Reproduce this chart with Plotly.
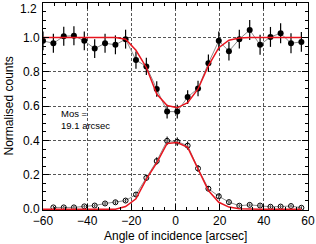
import plotly.graph_objects as go

# Angle of incidence [arcsec]
x_upper = [-60.0, -55.3, -50.6, -46.0, -41.3, -36.6, -31.9, -27.2, -22.6, -17.9, -13.2, -8.5, -3.8,
           0.8, 5.5, 10.2, 14.9, 19.6, 24.2, 28.9, 33.6, 38.3, 43.0, 47.6, 52.3, 57.0]
y_upper = [0.98, 0.966, 1.007, 1.01, 0.98, 0.935, 0.966, 0.957, 0.99, 0.868, 0.831, 0.70, 0.568,
           0.568, 0.653, 0.703, 0.85, 0.98, 0.92, 0.99, 1.043, 0.957, 1.003, 1.024, 0.966, 0.974]
err_upper = [0.055, 0.055, 0.055, 0.055, 0.055, 0.055, 0.055, 0.055, 0.055, 0.05, 0.05, 0.045, 0.04,
             0.04, 0.04, 0.045, 0.05, 0.055, 0.055, 0.055, 0.058, 0.058, 0.058, 0.058, 0.058, 0.058]
fit_upper = [1.0, 1.0, 1.0, 1.0, 1.0, 1.0, 1.0, 1.0, 0.99, 0.925, 0.825, 0.67, 0.603,
             0.59, 0.62, 0.70, 0.835, 0.94, 0.984, 0.996, 1.0, 1.0, 1.0, 1.0, 1.0, 1.0]

x_lower = [-55.3, -50.6, -46.0, -41.3, -36.6, -31.9, -27.2, -22.6, -17.9, -13.2, -8.5, -3.8,
           0.8, 5.5, 10.2, 14.9, 19.6, 24.2, 28.9, 33.6, 38.3, 43.0, 47.6, 52.3, 57.0]
y_lower = [0.01, 0.01, 0.01, 0.016, 0.021, 0.033, 0.04, 0.05, 0.085, 0.182, 0.28, 0.398,
           0.393, 0.37, 0.237, 0.119, 0.075, 0.041, 0.02, 0.025, 0.021, 0.014, 0.015, 0.018, 0.008]
err_lower = [0.008, 0.008, 0.008, 0.008, 0.008, 0.009, 0.01, 0.01, 0.012, 0.018, 0.022, 0.025,
             0.025, 0.024, 0.02, 0.015, 0.012, 0.01, 0.008, 0.008, 0.008, 0.008, 0.008, 0.008, 0.008]
fit_x_lower = [-60.0] + x_lower
fit_lower = [0.0, 0.0, 0.0, 0.0, 0.0, 0.0, 0.0, 0.0, 0.015, 0.06, 0.175, 0.27, 0.383,
             0.388, 0.36, 0.238, 0.108, 0.04, 0.012, 0.003, 0.0, 0.0, 0.0, 0.0, 0.0, 0.0]

x_ticks = [-60, -40, -20, 0, 20, 40, 60]
y_ticks = [0.0, 0.2, 0.4, 0.6, 0.8, 1.0, 1.2]

FONT = "Liberation Sans, Arial, sans-serif"

fig = go.Figure()
fig.add_trace(go.Scatter(
    x=x_upper, y=y_upper, mode="lines+markers",
    line=dict(color="#8c8c8c", width=1),
    marker=dict(symbol="circle", size=6, color="black"),
    error_y=dict(type="data", array=err_upper, color="black", thickness=1.2, width=0),
    showlegend=False))
fig.add_trace(go.Scatter(
    x=x_lower, y=y_lower, mode="lines+markers",
    line=dict(color="#8c8c8c", width=1),
    marker=dict(symbol="circle-open", size=5, color="black", line=dict(width=1)),
    error_y=dict(type="data", array=err_lower, color="black", thickness=1, width=0),
    showlegend=False))
fig.add_trace(go.Scatter(
    x=x_upper, y=fit_upper, mode="lines",
    line=dict(color="#e8141e", width=1.5), showlegend=False))
fig.add_trace(go.Scatter(
    x=fit_x_lower, y=fit_lower, mode="lines",
    line=dict(color="#e8141e", width=1.5), showlegend=False))

fig.add_annotation(x=-51.5, y=0.52, xref="x", yref="y", xshift=-3, text="Mos =<br>19.1 arcsec",
                   showarrow=False, xanchor="left", yanchor="middle", align="left",
                   font=dict(family=FONT, size=9.5, color="black"))

# axis titles as annotations for precise placement
fig.add_annotation(x=0.5, y=0, xref="paper", yref="paper", yshift=-26,
                   text="Angle of incidence [arcsec]", showarrow=False,
                   xanchor="center", yanchor="middle",
                   font=dict(family=FONT, size=12, color="black"))
fig.add_annotation(x=0, y=0.5, xref="paper", yref="paper", xshift=-35,
                   text="Normalised counts", showarrow=False, textangle=-90,
                   xanchor="center", yanchor="middle",
                   font=dict(family=FONT, size=12, color="black"))
# top y label (shifted down to stay inside the page, as in the reference)
fig.add_annotation(x=0, y=1, xref="paper", yref="paper", xshift=-4, yshift=-6,
                   text=f"{y_ticks[-1]:.1f}", showarrow=False,
                   xanchor="right", yanchor="middle",
                   font=dict(family=FONT, size=12, color="black"))

axis_common = dict(
    showline=True, linecolor="black", linewidth=1, mirror="allticks",
    ticks="inside", ticklen=6, tickwidth=1, tickcolor="black",
    showgrid=True, gridcolor="#555555", griddash="3px,2px", gridwidth=1,
    zeroline=False, automargin=False,
    tickfont=dict(family=FONT, size=12, color="black"),
)

fig.update_xaxes(
    range=[-60, 60], tickvals=x_ticks, ticktext=[f"{v:d}".replace("-", "\u2212") for v in x_ticks],
    minor=dict(dtick=5, ticks="inside", ticklen=3, tickcolor="black", showgrid=False),
    **axis_common)
fig.update_yaxes(
    range=[-0.005, 1.2005], tickvals=y_ticks,
    ticktext=[f"{v:.1f}" for v in y_ticks[:-1]] + [""],
    minor=dict(dtick=0.05, ticks="inside", ticklen=3, tickcolor="black", showgrid=False),
    **axis_common)

fig.update_layout(
    width=316, height=244,
    margin=dict(l=43, r=8, t=3, b=34),
    paper_bgcolor="white", plot_bgcolor="white",
    font=dict(family=FONT, size=12, color="black"),
)

fig.write_html("out.html", config={"displayModeBar": False},
               post_script="document.body.style.margin='0';document.body.style.overflow='hidden';")
